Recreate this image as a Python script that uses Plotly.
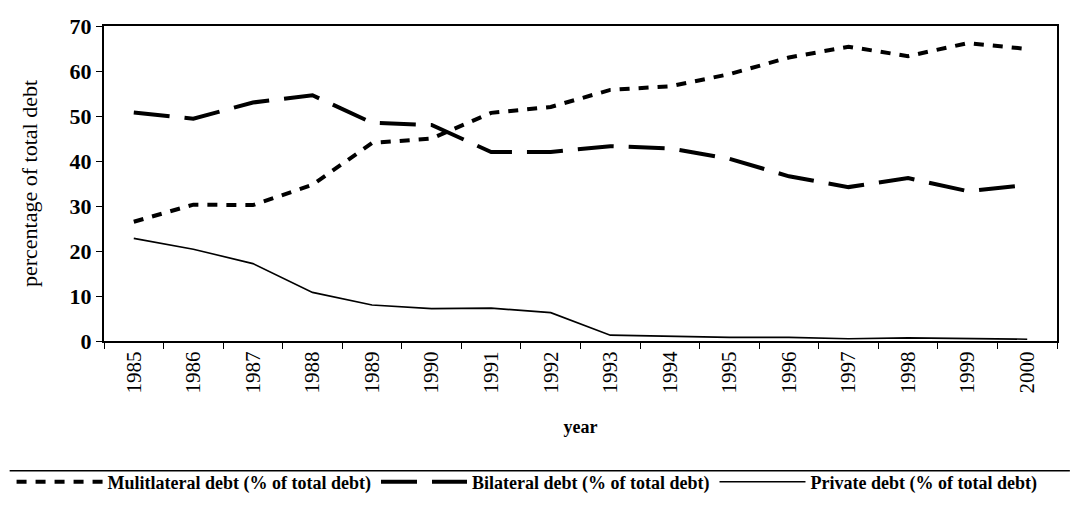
import plotly.graph_objects as go

years = [str(y) for y in range(1985, 2001)]
multilateral = [26.5, 30.3, 30.2, 34.7, 44.0, 45.0, 50.7, 52.0, 55.8, 56.6, 59.3, 63.0, 65.4, 63.3, 66.2, 64.9]
bilateral = [50.8, 49.4, 53.0, 54.6, 48.5, 48.0, 42.0, 42.0, 43.3, 42.8, 40.5, 36.6, 34.2, 36.2, 33.3, 34.7]
private = [22.8, 20.4, 17.2, 10.8, 8.0, 7.2, 7.3, 6.3, 1.3, 1.0, 0.8, 0.8, 0.5, 0.7, 0.6, 0.4]

font_family = "Liberation Serif, Times New Roman, serif"

fig = go.Figure()
fig.add_trace(go.Scatter(
    x=years, y=multilateral, mode="lines",
    name="<b>Mulitlateral debt (% of total debt)</b>",
    line=dict(color="black", width=4, dash="10px,9px"),
))
fig.add_trace(go.Scatter(
    x=years, y=bilateral, mode="lines",
    name="<b>Bilateral debt (% of total debt)</b>",
    line=dict(color="black", width=4, dash="36px,15px"),
))
fig.add_trace(go.Scatter(
    x=years, y=private, mode="lines",
    name="<b>Private debt (% of total debt)</b>",
    line=dict(color="black", width=1.6),
))

fig.update_layout(
    width=1070, height=512,
    paper_bgcolor="white", plot_bgcolor="white",
    font=dict(family=font_family, color="black", size=18),
    margin=dict(l=95, r=13, t=26, b=167),
    showlegend=True,
    # below and left of the plot area so the legend may use the full width
    legend=dict(orientation="h", x=-0.097, xanchor="left",
                y=-0.448, yanchor="middle",
                font=dict(size=18, family=font_family), itemwidth=86,
                bgcolor="rgba(0,0,0,0)"),
    xaxis=dict(
        type="category", range=[-0.5, 15.5], tickangle=-90, tickson="boundaries",
        ticks="outside", ticklen=6, tickcolor="black",
        showline=True, linecolor="black", linewidth=2, mirror=True,
        showgrid=False,
        tickfont=dict(size=21, family=font_family),
        title=dict(text="<b>year</b>", font=dict(size=18), standoff=28),
    ),
    yaxis=dict(
        range=[0, 70], dtick=10,
        ticks="outside", ticklen=6, tickcolor="black",
        showline=True, linecolor="black", linewidth=2, mirror=True,
        showgrid=False, zeroline=False,
        tickfont=dict(size=22, family=font_family),
        tickprefix="<b>", ticksuffix="</b>",
        title=dict(text="percentage of total debt", font=dict(size=22), standoff=26),
    ),
)

# separator line above the legend
fig.add_shape(type="line", xref="paper", yref="paper",
              x0=-0.099, x1=1.0135, y0=-0.412, y1=-0.412,
              line=dict(color="black", width=1.5))

fig.write_html("out.html", config={"displayModeBar": False},
               post_script="document.body.style.margin='0';")
